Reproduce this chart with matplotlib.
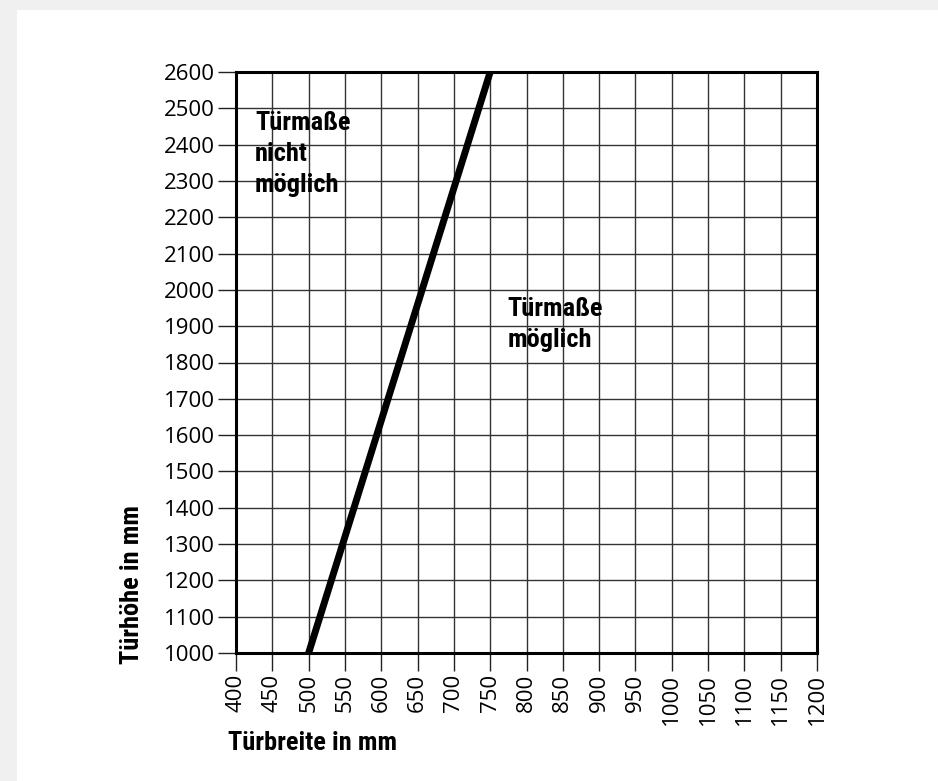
import matplotlib
matplotlib.use('Agg')
import matplotlib.pyplot as plt
import matplotlib.patches as mpatches

# boundary line between possible / not possible door sizes
breite = [500, 750]
hoehe = [1000, 2600]

x_ticks = list(range(400, 1201, 50))
y_ticks = list(range(1000, 2601, 100))

label_x = 'Türbreite in mm'
label_y = 'Türhöhe in mm'
text_nicht = 'Türmaße\nnicht\nmöglich'
text_moeglich = 'Türmaße\nmöglich'

W, H = 938, 781
fig = plt.figure(figsize=(W / 100, H / 100), dpi=100, facecolor='#f0f0f0')
fig.patches.append(mpatches.Rectangle((17 / W, 0), 1, 1 - 10 / H,
                                      transform=fig.transFigure,
                                      facecolor='white', edgecolor='none',
                                      zorder=-10))

ax = fig.add_axes([236 / W, (H - 653) / H, 581 / W, 581 / H])
ax.set_facecolor('white')
ax.set_xlim(400, 1200)
ax.set_ylim(1000, 2600)
ax.set_xticks(x_ticks)
ax.set_yticks(y_ticks)
ax.set_xticklabels([str(v) for v in x_ticks], rotation=90)

tick_font = ['Open Sans', 'DejaVu Sans']
for lab in ax.get_xticklabels() + ax.get_yticklabels():
    lab.set_fontfamily(tick_font)
    lab.set_fontsize(16)
ax.tick_params(axis='both', direction='out', length=13, width=1,
               color='#222222', pad=2)

ax.grid(True, color='#333333', linewidth=1)
ax.set_axisbelow(True)
for s in ax.spines.values():
    s.set_linewidth(2.2)
    s.set_color('black')

ax.plot(breite, hoehe, color='black', linewidth=5, solid_capstyle='butt',
        zorder=3)

bold = ['Roboto Condensed', 'DejaVu Sans']
ax.text(426, 2492, text_nicht, fontsize=19, fontweight='bold',
        family=bold, va='top', ha='left', linespacing=1.35, zorder=4)
ax.text(774, 1980, text_moeglich, fontsize=19, fontweight='bold',
        family=bold, va='top', ha='left', linespacing=1.35, zorder=4)

fig.text(228 / W, 1 - 731 / H, label_x, fontsize=19, fontweight='bold',
         family=bold, va='top', ha='left')
fig.text(132 / W, 1 - 584 / H, label_y, fontsize=19, fontweight='bold',
         family=bold, va='center', ha='center', rotation=90)

fig.savefig('out.png', dpi=100, facecolor=fig.get_facecolor())
